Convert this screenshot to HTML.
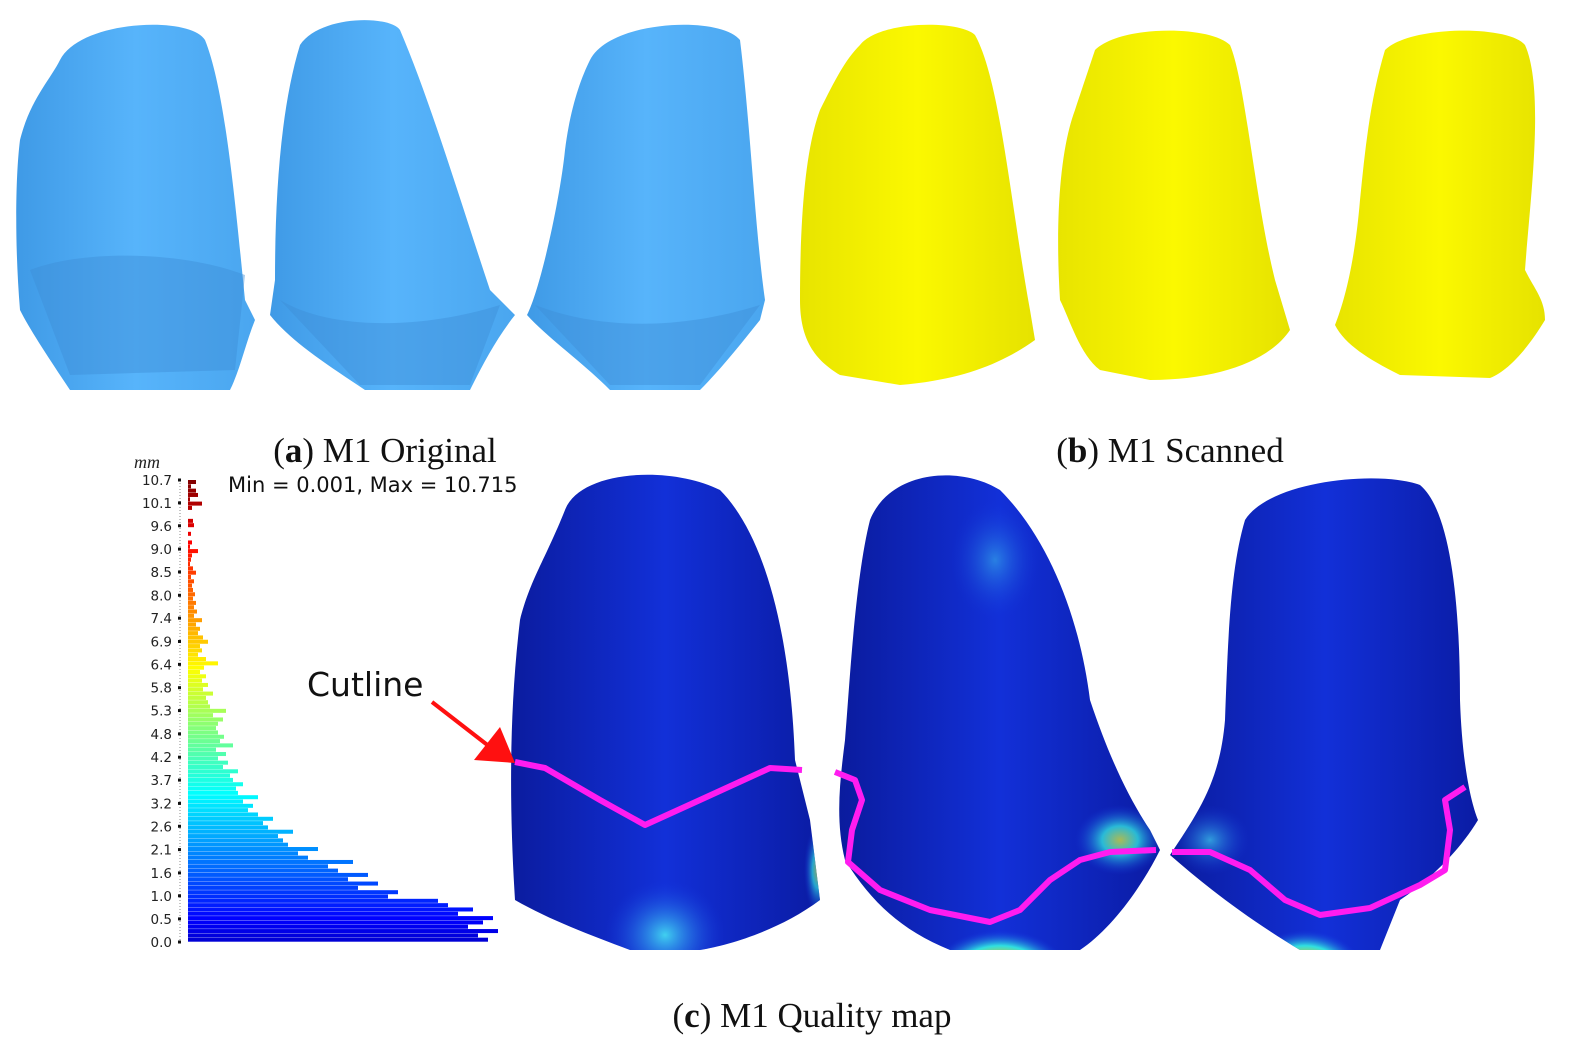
<!DOCTYPE html>
<html><head><meta charset="utf-8"><style>
html,body{margin:0;padding:0;background:#fff;width:1590px;height:1062px;overflow:hidden}
svg{display:block}
.cap{font-family:"Liberation Serif",serif;font-size:35px;fill:#111}
.tk{font-family:"DejaVu Sans","Liberation Sans",sans-serif;font-size:13.5px;fill:#222}
</style></head><body>
<svg id="fig" width="1590" height="1062" viewBox="0 0 1590 1062">
<defs>
<linearGradient id="gb" x1="0" y1="0" x2="1" y2="0"><stop offset="0" stop-color="#3f9ae6"/><stop offset="0.5" stop-color="#57b4fb"/><stop offset="1" stop-color="#4aa6ef"/></linearGradient>
<linearGradient id="gy" x1="0" y1="0" x2="1" y2="0"><stop offset="0" stop-color="#e8e400"/><stop offset="0.5" stop-color="#fbf800"/><stop offset="1" stop-color="#e6e200"/></linearGradient>
<linearGradient id="gq" x1="0" y1="0" x2="1" y2="0"><stop offset="0" stop-color="#0a1a9a"/><stop offset="0.5" stop-color="#1230d8"/><stop offset="1" stop-color="#0a1aa0"/></linearGradient>
<radialGradient id="hot" cx="0.5" cy="0.5" r="0.5"><stop offset="0" stop-color="#d02000"/><stop offset="0.35" stop-color="#f0c000"/><stop offset="0.65" stop-color="#30e0e0"/><stop offset="1" stop-color="#1535e0" stop-opacity="0"/></radialGradient>
<radialGradient id="warm" cx="0.5" cy="0.5" r="0.5"><stop offset="0" stop-color="#d0e040"/><stop offset="0.4" stop-color="#30e0e0"/><stop offset="1" stop-color="#1535e0" stop-opacity="0"/></radialGradient>
<radialGradient id="cy" cx="0.5" cy="0.5" r="0.5"><stop offset="0" stop-color="#40d0f0"/><stop offset="1" stop-color="#1535e0" stop-opacity="0"/></radialGradient>
<clipPath id="c1"><path d="M565,510 C580,470 670,465 720,490 C760,530 790,620 795,760 L810,820 L820,900 C780,930 730,945 700,950 L630,950 C590,935 550,920 515,900 C510,820 508,720 520,620 C530,580 545,560 565,510Z"/></clipPath>
<clipPath id="c2"><path d="M870,520 C890,470 960,465 1000,490 C1050,540 1080,620 1090,700 C1110,760 1130,800 1150,830 L1160,850 C1140,890 1110,930 1080,950 L950,950 C900,930 870,900 845,860 C835,820 840,780 845,740 C850,680 855,580 870,520Z"/></clipPath>
<clipPath id="c3"><path d="M1245,520 C1270,480 1380,470 1420,485 C1450,510 1460,600 1460,700 C1462,760 1470,800 1478,820 C1460,850 1430,880 1400,900 L1380,950 L1300,950 C1250,920 1210,890 1170,855 C1200,810 1220,780 1225,720 C1228,640 1230,570 1245,520Z"/></clipPath>
</defs>

<g>
<path fill="url(#gb)" d="M60,60 C80,20 190,15 205,40 C225,90 235,200 245,300 L255,320 C245,345 240,370 230,390 L70,390 C50,360 30,330 20,310 C15,250 15,180 20,140 C30,100 50,80 60,60 Z"/>
<path fill="url(#gb)" d="M300,45 C320,15 390,15 400,30 C430,100 460,200 490,290 L515,315 C495,340 480,370 470,390 L365,390 C320,360 290,340 270,315 L275,280 C275,200 280,110 300,45 Z"/>
<path fill="url(#gb)" d="M590,60 C610,20 720,15 740,40 C750,120 755,230 765,300 L760,320 C740,345 720,370 700,390 L610,390 C580,360 550,340 527,315 C540,290 560,200 565,150 C570,110 580,80 590,60Z"/>
<path d="M30,270 C80,250 180,250 245,275 L235,370 L70,375Z M280,300 C330,330 420,330 500,305 L470,385 L360,385Z M535,305 C600,330 680,330 760,305 L700,385 L610,385Z" fill="#3d8fd8" opacity="0.45"/>
</g>
<g>
<path fill="url(#gy)" d="M860,45 C880,20 960,20 975,35 C1000,80 1010,200 1030,310 L1035,340 C1000,365 960,380 900,385 L840,375 C815,360 800,340 800,300 C800,220 805,150 820,110 C835,80 845,60 860,45Z"/>
<path fill="url(#gy)" d="M1095,50 C1120,25 1210,25 1230,45 C1245,80 1255,200 1275,280 L1290,330 C1270,360 1220,380 1150,380 L1100,370 C1080,355 1070,320 1060,300 C1055,220 1060,150 1075,110 C1085,80 1090,65 1095,50Z"/>
<path fill="url(#gy)" d="M1385,50 C1410,25 1510,25 1525,45 C1545,90 1530,200 1525,270 C1535,290 1545,300 1545,320 C1530,345 1510,370 1490,378 L1400,375 C1370,360 1345,345 1335,325 C1345,300 1355,260 1360,200 C1365,150 1370,100 1385,50Z"/>
</g>

<text class="cap" x="385" y="462" text-anchor="middle">(<tspan font-weight="bold">a</tspan>) M1 Original</text>
<text class="cap" x="1170" y="462" text-anchor="middle">(<tspan font-weight="bold">b</tspan>) M1 Scanned</text>
<text class="cap" x="812" y="1027" text-anchor="middle">(<tspan font-weight="bold">c</tspan>) M1 Quality map</text>

<g>
<g clip-path="url(#c1)">
<rect x="500" y="460" width="330" height="500" fill="url(#gq)"/>
<ellipse cx="665" cy="935" rx="60" ry="55" fill="url(#cy)"/>
<ellipse cx="818" cy="870" rx="14" ry="45" fill="url(#warm)" opacity="0.7"/>
</g>
<g clip-path="url(#c2)">
<rect x="830" y="460" width="340" height="500" fill="url(#gq)"/>
<ellipse cx="1000" cy="975" rx="70" ry="45" fill="url(#hot)"/>
<ellipse cx="1120" cy="840" rx="45" ry="35" fill="url(#warm)" opacity="0.8"/>
<ellipse cx="995" cy="560" rx="45" ry="60" fill="url(#cy)" opacity="0.5"/>
</g>
<g clip-path="url(#c3)">
<rect x="1160" y="460" width="330" height="500" fill="url(#gq)"/>
<ellipse cx="1305" cy="975" rx="60" ry="45" fill="url(#hot)"/>
<ellipse cx="1210" cy="840" rx="40" ry="35" fill="url(#cy)" opacity="0.7"/>
</g>
<g fill="none" stroke="#ff1cf0" stroke-width="6" stroke-linejoin="round">
<polyline points="515,762 545,768 600,800 645,825 700,800 770,768 802,770"/>
<polyline points="835,772 855,780 862,800 852,830 848,862 880,890 930,910 990,922 1020,910 1050,880 1080,860 1110,852 1156,850"/>
<polyline points="1172,852 1210,852 1250,870 1285,900 1320,915 1370,908 1420,885 1445,870 1450,830 1445,800 1465,787"/>
</g>
</g>

<text x="307" y="696" font-family="DejaVu Sans, Liberation Sans, sans-serif" font-size="33" fill="#111">Cutline</text>
<line x1="432" y1="702" x2="490" y2="747" stroke="#ff1010" stroke-width="4"/>
<polygon points="474,760 515,763 500,727" fill="#ff1010"/>

<text x="228" y="492" font-family="DejaVu Sans, Liberation Sans, sans-serif" font-size="21" fill="#111">Min = 0.001, Max = 10.715</text>
<text x="134" y="468" font-family="Liberation Serif, serif" font-style="italic" font-size="18" fill="#222">mm</text>
<g id="hist"></g>
</svg>
<script>
const tickLabels = ["0.0","0.5","1.0","1.6","2.1","2.6","3.2","3.7","4.2","4.8","5.3","5.8","6.4","6.9","7.4","8.0","8.5","9.0","9.6","10.1","10.7"];
const tickValues = [0,0.535,1.07,1.6,2.14,2.68,3.21,3.75,4.28,4.82,5.36,5.89,6.43,6.96,7.5,8.03,8.57,9.1,9.64,10.17,10.7];
const binCounts = [300,290,310,280,295,305,270,285,260,250,
200,210,170,190,160,180,150,140,165,120,
110,130,100,95,90,105,80,75,85,70,
60,65,55,70,50,48,55,45,42,50,
35,40,30,38,28,45,32,36,30,28,
30,35,25,38,22,20,18,25,15,20,
14,18,12,16,30,18,10,14,12,20,
15,10,12,8,14,6,9,6,8,5,
7,5,4,6,3,8,5,2,3,4,
10,2,4,0,3,0,6,5,0,0,
4,14,2,10,8,3,8];
const maxValue = 10.7;

const ns="http://www.w3.org/2000/svg";
const g=document.getElementById('hist');
const y0=942,y1=480,x0=188;
const yScale=v=>y0-(v/maxValue)*(y0-y1);
const xScale=c=>c*1.0;
function jet(t){
  const r=Math.min(Math.max(1.5-Math.abs(4*t-3),0),1);
  const gg=Math.min(Math.max(1.5-Math.abs(4*t-2),0),1);
  const b=Math.min(Math.max(1.5-Math.abs(4*t-1),0),1);
  return `rgb(${Math.round(r*255)},${Math.round(gg*255)},${Math.round(b*255)})`;
}
const axis=document.createElementNS(ns,'line');


axis.setAttribute('x1',180);axis.setAttribute('x2',180);axis.setAttribute('y1',y1);axis.setAttribute('y2',y0);
axis.setAttribute('stroke','#888');axis.setAttribute('stroke-dasharray','1,2');
g.appendChild(axis);
tickLabels.forEach((lab,i)=>{
  const y=yScale(tickValues[i]);
  const t=document.createElementNS(ns,'text');
  
  
  t.setAttribute('class','tk');t.setAttribute('x',172);t.setAttribute('y',y+5);t.setAttribute('text-anchor','end');
  t.textContent=lab;g.appendChild(t);
  const m=document.createElementNS(ns,'rect');
  
  
  m.setAttribute('x',178);m.setAttribute('y',y-1.5);m.setAttribute('width',3);m.setAttribute('height',3);m.setAttribute('fill','#111');
  g.appendChild(m);
});
const bw=maxValue/binCounts.length;
binCounts.forEach((c,i)=>{
  if(c<=0)return;
  const yt=yScale((i+1)*bw), yb=yScale(i*bw);
  const r=document.createElementNS(ns,'rect');
  
  
  r.setAttribute('x',x0);r.setAttribute('y',yt);r.setAttribute('width',xScale(c));r.setAttribute('height',Math.max(yb-yt-0.3,1));
  r.setAttribute('fill',jet((i+0.5)/binCounts.length*0.92+0.08));
  g.appendChild(r);
});
</script>
</body></html>
